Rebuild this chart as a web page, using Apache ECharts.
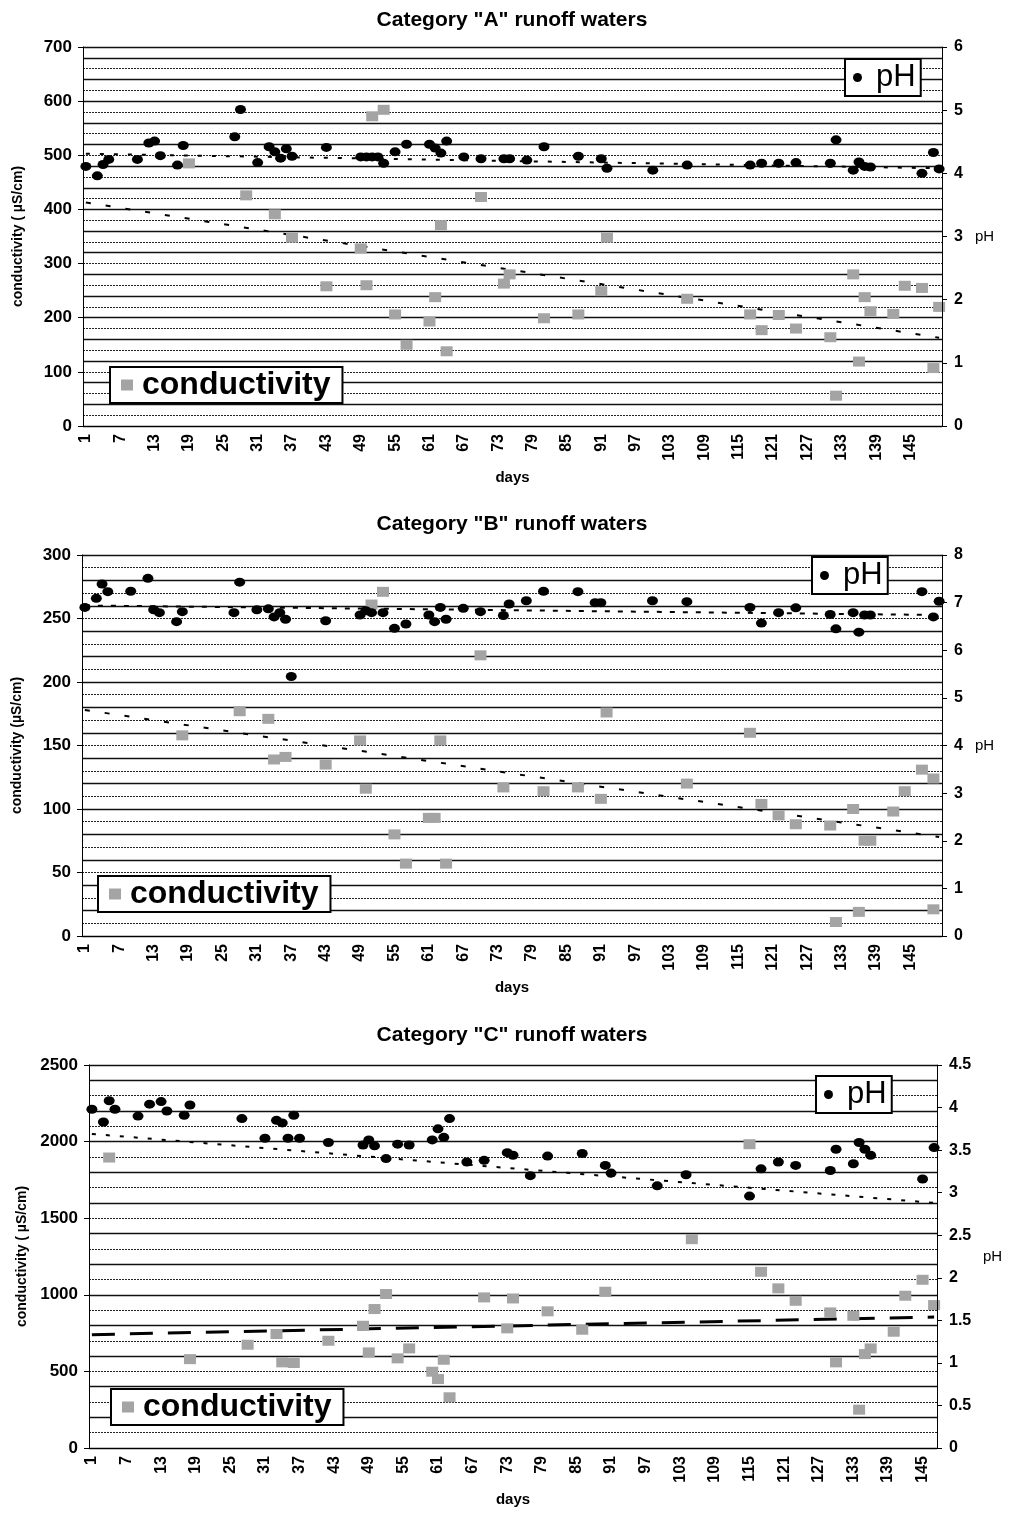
<!DOCTYPE html>
<html><head><meta charset="utf-8">
<script src="https://cdn.jsdelivr.net/npm/echarts@6/dist/echarts.min.js"></script>
<style>html,body{margin:0;padding:0;background:#fff}#c{width:1011px;height:1513px}</style>
</head><body><div id="c"></div>
<script>
const FONT = '"Liberation Sans", Arial, sans-serif';

// ---------- Category A ----------
const condA_days = [19,29,34,37,43,49,50,51,53,55,57,61,62,63,64,70,74,75,81,87,91,92,106,117,119,122,125,131,132,135,136,137,138,142,144,147,149,150];
const condA_vals = [485,426,391,348,258,328,260,572,584,206,150,193,238,371,138,423,263,280,199,206,249,348,235,206,177,205,180,164,56,280,119,238,212,207,259,255,107,220];
const pHA_days = [1,3,4,5,10,12,13,14,17,18,27,28,31,33,34,35,36,37,43,49,50,51,52,53,55,57,61,62,63,64,67,70,74,75,78,81,87,91,92,100,106,117,119,122,125,131,132,135,136,137,138,147,149,150];
const pHA_vals = [4.11,3.96,4.14,4.22,4.22,4.48,4.51,4.28,4.13,4.44,4.58,5.01,4.17,4.42,4.34,4.24,4.39,4.27,4.41,4.26,4.26,4.26,4.26,4.16,4.34,4.46,4.46,4.40,4.32,4.51,4.26,4.23,4.23,4.23,4.21,4.42,4.27,4.23,4.08,4.05,4.13,4.13,4.16,4.16,4.17,4.16,4.53,4.05,4.18,4.11,4.10,4.0,4.33,4.07];
const trendA_cond = [413, 163];   // day 1 -> last day
const trendA_pH = [4.31, 4.08];

// ---------- Category B ----------
const condB_days = [18,28,33,34,36,43,49,50,51,53,55,57,61,62,63,64,70,74,81,87,91,92,106,117,119,122,125,131,132,135,136,137,138,142,144,147,149,149];
const condB_vals = [158,177,171,139,141,135,154,116,261,271,80,57,93,93,154,57,221,117,114,117,108,176,120,160,104,95,88,87,11,100,19,75,75,98,114,131,124,21];
const pHB_days = [1,3,4,5,9,12,13,14,17,18,27,28,31,33,34,35,36,37,43,49,50,51,53,55,57,61,62,63,64,67,70,74,75,78,81,87,90,91,100,106,117,119,122,125,131,132,135,136,137,138,147,149,150];
const pHB_vals = [6.9,7.09,7.39,7.23,7.24,7.51,6.85,6.79,6.6,6.81,6.79,7.43,6.85,6.87,6.7,6.79,6.65,5.45,6.62,6.74,6.83,6.79,6.79,6.46,6.55,6.74,6.6,6.9,6.65,6.88,6.81,6.73,6.97,7.04,7.24,7.23,7.0,7.0,7.04,7.02,6.9,6.57,6.79,6.89,6.75,6.45,6.79,6.38,6.74,6.74,7.23,6.70,7.03];
const trendB_cond = [178, 78];
const trendB_pH = [6.94, 6.74];

// ---------- Category C ----------
const condC_days = [4,18,28,33,34,36,42,48,49,50,52,54,56,60,61,62,63,69,73,74,80,86,90,105,115,117,120,123,129,130,133,134,135,136,140,142,145,147];
const condC_vals = [1896,580,674,744,559,555,700,798,624,907,1005,585,650,498,450,576,331,983,781,976,892,772,1020,1363,1983,1150,1042,961,885,559,863,250,613,650,759,994,1098,933];
const pHC_days = [1,3,4,5,9,11,13,14,17,18,27,31,33,34,35,36,37,42,48,49,50,52,54,56,60,61,62,63,66,69,73,74,77,80,86,90,91,99,104,115,117,120,123,129,130,133,134,135,136,145,147];
const pHC_vals = [3.98,3.83,4.08,3.98,3.90,4.04,4.07,3.96,3.91,4.03,3.87,3.64,3.85,3.82,3.64,3.91,3.64,3.59,3.56,3.62,3.55,3.40,3.57,3.56,3.62,3.75,3.65,3.87,3.36,3.38,3.47,3.44,3.2,3.43,3.46,3.32,3.23,3.08,3.21,2.96,3.28,3.36,3.32,3.26,3.51,3.34,3.59,3.51,3.44,3.16,3.53];
const trendC_cond = [740, 855];
const trendC_pH = [3.69, 2.88];

// axis settings (ticks)
const titles = ['Category "A" runoff waters', 'Category "B" runoff waters', 'Category "C" runoff waters'];
const dayCounts = [150, 150, 147];
const condMax = [700, 300, 2500], condStep = [100, 50, 500];
const condMinor = [20, 10, 100], condMajorLine = [40, 20, 200];
const pHMax = [6, 8, 4.5], pHStep = [1, 1, 0.5];
const condNames = ['conductivity ( \u00b5S/cm)', 'conductivity (\u00b5S/cm)', 'conductivity ( \u00b5S/cm)'];

const panels = [
  {condDays: condA_days, cond: condA_vals, pHDays: pHA_days, pH: pHA_vals, tc: trendA_cond, tp: trendA_pH},
  {condDays: condB_days, cond: condB_vals, pHDays: pHB_days, pH: pHB_vals, tc: trendB_cond, tp: trendB_pH},
  {condDays: condC_days, cond: condC_vals, pHDays: pHC_days, pH: pHC_vals, tc: trendC_cond, tp: trendC_pH}
];

// layout
const L = [
  {grid:{left:83, top:47, width:859, height:379}, titleTop:5, pHLeg:{left:845, top:59}, condLeg:{left:110, top:367}, leftGap:58, rightGap:33, condDash:[5,15], condW:2, pHDash:[4,10]},
  {grid:{left:82, top:555, width:860, height:381}, titleTop:509, pHLeg:{left:812, top:557}, condLeg:{left:98, top:876}, leftGap:58, rightGap:33, condDash:[5,15], condW:2, pHDash:[5,8]},
  {grid:{left:89, top:1065, width:848, height:383}, titleTop:1020, pHLeg:{left:816, top:1076}, condLeg:{left:111, top:1389}, leftGap:55, rightGap:46, condDash:[23,15], condW:3, pHDash:[4,10]}
];

const option = {animation:false, backgroundColor:'#fff', title:[], grid:[], xAxis:[], yAxis:[], series:[], legend:[]};

panels.forEach((p, i) => {
  const lay = L[i];
  const cats = [];
  for (let d = 1; d <= dayCounts[i]; d++) cats.push(String(d));
  option.title.push({text: titles[i], left: 507, top: lay.titleTop, textAlign: 'center',
    textStyle: {fontFamily: FONT, fontSize: 21, fontWeight: 'bold', color: '#000'}});
  option.grid.push(Object.assign({containLabel:false}, lay.grid));
  option.xAxis.push({
    type:'category', gridIndex:i, data:cats, boundaryGap:true,
    name:'days', nameLocation:'middle', nameGap:44,
    nameTextStyle:{fontFamily:FONT, fontSize:15, fontWeight:'bold', color:'#000'},
    axisLine:{lineStyle:{color:'#000', width:1}},
    axisTick:{interval:0, length:4, lineStyle:{color:'#000'}},
    axisLabel:{interval:5, rotate:90, margin:8, fontFamily:FONT, fontSize:16, fontWeight:'bold', color:'#000'},
    splitLine:{show:false}
  });
  const base = i * 4;
  option.yAxis.push({
    type:'value', gridIndex:i, position:'left', min:0, max:condMax[i], interval:condStep[i],
    name:condNames[i], nameLocation:'middle', nameGap:lay.leftGap,
    nameTextStyle:{fontFamily:FONT, fontSize:14, fontWeight:'bold', color:'#000'},
    axisLine:{show:true, lineStyle:{color:'#000'}},
    axisTick:{show:true, length:5, lineStyle:{color:'#000'}},
    axisLabel:{margin:11, fontFamily:FONT, fontSize:17, fontWeight:'bold', color:'#000', formatter: v => String(v)},
    splitLine:{show:false}, z:5
  });
  option.yAxis.push({
    type:'value', gridIndex:i, position:'right', min:0, max:pHMax[i], interval:pHStep[i],
    name:'pH', nameLocation:'middle', nameRotate:0, nameGap:lay.rightGap,
    nameTextStyle:{fontFamily:FONT, fontSize:15, color:'#000', align:'left'},
    axisLine:{show:true, lineStyle:{color:'#000'}},
    axisTick:{show:true, length:5, lineStyle:{color:'#000'}},
    axisLabel:{margin:12, fontFamily:FONT, fontSize:16, fontWeight:'bold', color:'#000', formatter: v => String(v)},
    splitLine:{show:false}, z:5
  });
  // minor (dotted) grid lines
  option.yAxis.push({
    type:'value', gridIndex:i, position:'left', min:0, max:condMax[i], interval:condMinor[i],
    axisLine:{show:false}, axisTick:{show:false}, axisLabel:{show:false},
    splitLine:{show:true, lineStyle:{color:'#222', width:1, type:[2,1]}}
  });
  // solid grid lines
  option.yAxis.push({
    type:'value', gridIndex:i, position:'left', min:0, max:condMax[i], interval:condMajorLine[i],
    axisLine:{show:false}, axisTick:{show:false}, axisLabel:{show:false},
    splitLine:{show:true, lineStyle:{color:'#111', width:1.3}}
  });

  const n = dayCounts[i];
  option.series.push({
    name:'cond trend ' + i, type:'line', xAxisIndex:i, yAxisIndex:base,
    data:[[0, p.tc[0]], [n-1, p.tc[1]]], symbol:'none', silent:true, z:2,
    lineStyle:{color:'#000', width:lay.condW, type:lay.condDash}
  });
  option.series.push({
    name:'pH trend ' + i, type:'line', xAxisIndex:i, yAxisIndex:base+1,
    data:[[0, p.tp[0]], [n-1, p.tp[1]]], symbol:'none', silent:true, z:2,
    lineStyle:{color:'#000', width:2, type:lay.pHDash}
  });
  option.series.push({
    name:'conductivity', type:'scatter', xAxisIndex:i, yAxisIndex:base,
    data:p.condDays.map((d,k) => [d-1, p.cond[k]]),
    symbol:'rect', symbolSize:[12,10], z:3,
    itemStyle:{color:'#a4a4a4', opacity:1}
  });
  option.series.push({
    name:'pH', type:'scatter', xAxisIndex:i, yAxisIndex:base+1,
    data:p.pHDays.map((d,k) => [d-1, p.pH[k]]),
    symbol:'circle', symbolSize:[11,9], z:4,
    itemStyle:{color:'#000', opacity:1}
  });
  option.legend.push({
    left:lay.pHLeg.left, top:lay.pHLeg.top, orient:'horizontal', selectedMode:false,
    data:[{name:'pH', icon:'circle', itemStyle:{color:'#000'}}],
    formatter: name => ' ' + name,
    itemWidth:10, itemHeight:9, itemGap:0,
    textStyle:{fontFamily:FONT, fontSize:31, color:'#000'},
    borderColor:'#000', borderWidth:2, padding:[3,5,3,8], backgroundColor:'#fff'
  });
  option.legend.push({
    left:lay.condLeg.left, top:lay.condLeg.top, orient:'horizontal', selectedMode:false,
    data:[{name:'conductivity', icon:'rect', itemStyle:{color:'#a4a4a4'}}],
    itemWidth:12, itemHeight:11, itemGap:0,
    textStyle:{fontFamily:FONT, fontSize:32, fontWeight:'bold', color:'#000', padding:[0,0,0,4]},
    borderColor:'#000', borderWidth:2, padding:[2,12,2,11], backgroundColor:'#fff'
  });
});

const chart = echarts.init(document.getElementById('c'), null, {renderer:'canvas'});
chart.setOption(option);
</script>
</body></html>
